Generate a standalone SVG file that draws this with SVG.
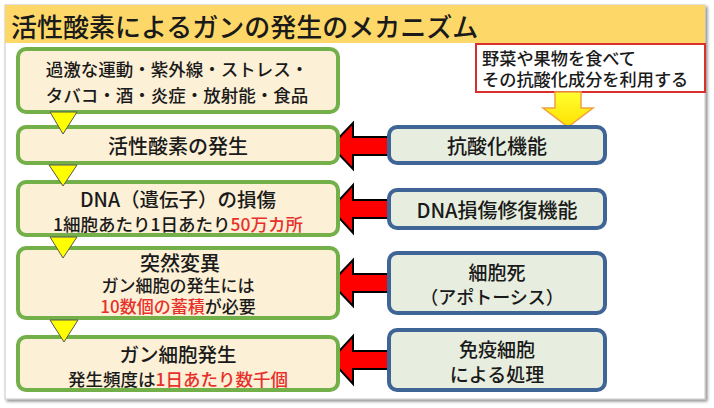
<svg xmlns="http://www.w3.org/2000/svg" width="714" height="408" viewBox="0 0 714 408">
<defs>
<style>
.t{font-family:"Noto Sans CJK JP","Noto Sans",sans-serif;fill:#1a1a1a;font-weight:500;}
.m{text-anchor:middle;}
.r{fill:#e8302c;}
.lb{fill:#fcf0d6;stroke:#74b04a;stroke-width:4;}
.rb{fill:#e7eedf;stroke:#3f6597;stroke-width:4;}
.ra{fill:#ff0000;stroke:#000;stroke-width:2;stroke-linejoin:miter;}
.tri{fill:#ffff00;stroke:#555;stroke-width:1;}
</style>
<linearGradient id="yg" x1="0" y1="0" x2="0" y2="1">
<stop offset="0" stop-color="#ffff30"/>
<stop offset="1" stop-color="#ffe000"/>
</linearGradient>
<filter id="sh" x="-5%" y="-5%" width="110%" height="110%">
<feDropShadow dx="2" dy="2" stdDeviation="1.5" flood-color="#000" flood-opacity="0.45"/>
</filter>
</defs>
<rect x="0" y="0" width="714" height="408" fill="#ffffff"/>
<rect x="5" y="5" width="700" height="394" fill="#ffffff" stroke="#c8c8c8" stroke-width="1" filter="url(#sh)"/>
<g id="title">
<rect x="5" y="5" width="700" height="38" fill="#fdd868"/>
<text class="t" x="11" y="37" font-size="26">活性酸素によるガンの発生のメカニズム</text>
</g>
<g id="callout">
<rect x="476" y="44" width="229" height="48" fill="#ffffff" stroke="#d9302c" stroke-width="2"/>
<text class="t" x="482" y="65" font-size="17.2">野菜や果物を食べて</text>
<text class="t" x="482" y="86" font-size="17.2">その抗酸化成分を利用する</text>
</g>
<g id="connectors">
<polygon points="555,92 581,92 581,108 593,108 568,127 543,108 555,108" fill="url(#yg)" stroke="#f0a040" stroke-width="1.5"/>
<polygon class="ra" points="331,146 353,123 353,137 392,137 392,155 353,155 353,169"/>
<polygon class="ra" points="331,209 353,185 353,200 392,200 392,218 353,218 353,233"/>
<polygon class="ra" points="331,283 353,260 353,274 392,274 392,292 353,292 353,306"/>
<polygon class="ra" points="331,360 353,336 353,351 392,351 392,369 353,369 353,384"/>
</g>
<g id="n1">
<rect class="lb" x="18" y="49" width="320" height="63" rx="8"/>
<text class="t m" x="177" y="76" font-size="17.5">過激な運動・紫外線・ストレス・</text>
<text class="t m" x="177" y="102" font-size="17.5">タバコ・酒・炎症・放射能・食品</text>
</g>
<g id="n2">
<rect class="lb" x="18" y="127" width="320" height="36" rx="8"/>
<text class="t m" x="178" y="154" font-size="20">活性酸素の発生</text>
</g>
<g id="n3">
<rect class="lb" x="18" y="182" width="320" height="53" rx="8"/>
<text class="t m" x="178" y="207" font-size="19.5">DNA（遺伝子）の損傷</text>
<text class="t m" x="178" y="231" font-size="17.5">1細胞あたり1日あたり<tspan class="r">50万カ所</tspan></text>
</g>
<g id="n4">
<rect class="lb" x="18" y="248" width="320" height="70" rx="8"/>
<text class="t m" x="180" y="271" font-size="20">突然変異</text>
<text class="t m" x="178" y="292" font-size="17">ガン細胞の発生には</text>
<text class="t m" x="178" y="313" font-size="17"><tspan class="r">10数個の蓄積</tspan>が必要</text>
</g>
<g id="n5">
<rect class="lb" x="18" y="337" width="320" height="53" rx="8"/>
<text class="t m" x="178" y="362" font-size="19.5">ガン細胞発生</text>
<text class="t m" x="178" y="386" font-size="17.5">発生頻度は<tspan class="r">1日あたり数千個</tspan></text>
</g>
<g id="triangles">
<polygon class="tri" points="50,112 77,112 63,134"/>
<polygon class="tri" points="49,165 77,165 63,186"/>
<polygon class="tri" points="50,237 77,237 63,258"/>
<polygon class="tri" points="50,320 78,320 64,342"/>
</g>
<g id="r1">
<rect class="rb" x="389" y="127" width="216" height="36" rx="8"/>
<text class="t m" x="497" y="154" font-size="20">抗酸化機能</text>
</g>
<g id="r2">
<rect class="rb" x="389" y="190" width="216" height="38" rx="8"/>
<text class="t m" x="497" y="218" font-size="20">DNA損傷修復機能</text>
</g>
<g id="r3">
<rect class="rb" x="389" y="253" width="216" height="60" rx="8"/>
<text class="t m" x="497" y="280" font-size="19">細胞死</text>
<text class="t m" x="492" y="304" font-size="18">（アポトーシス）</text>
</g>
<g id="r4">
<rect class="rb" x="389" y="330" width="216" height="60" rx="8"/>
<text class="t m" x="497" y="357" font-size="19">免疫細胞</text>
<text class="t m" x="497" y="382" font-size="19">による処理</text>
</g>
</svg>
